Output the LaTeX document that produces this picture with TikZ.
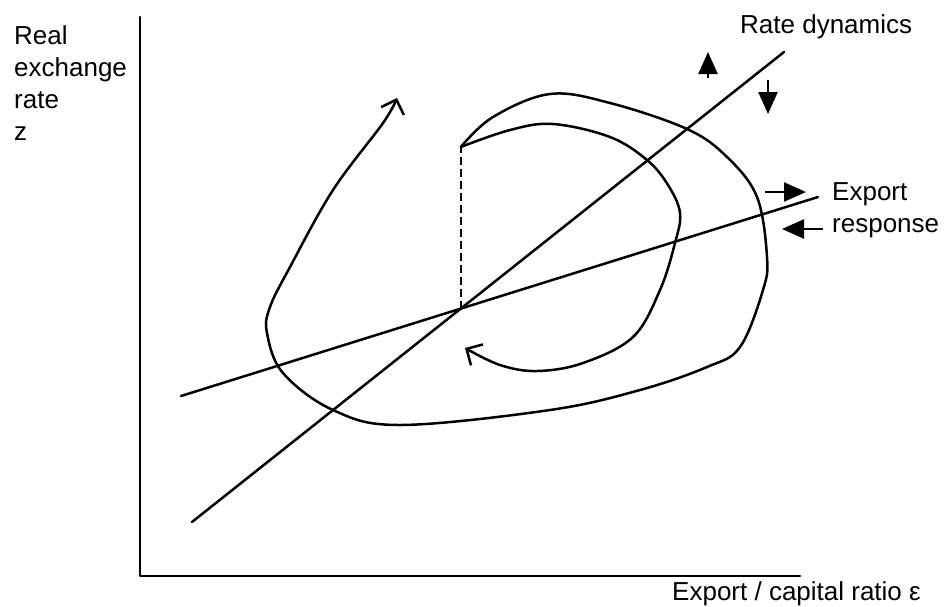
\documentclass[tikz,border=0pt]{standalone}
\usepackage{fontspec}
\setmainfont{Liberation Sans}
\usetikzlibrary{arrows.meta}
\begin{document}
\begin{tikzpicture}[x=1pt,y=-1pt,
  curve/.style={line width=2.5pt, line cap=round, line join=round},
  lbl/.style={font=\fontsize{26}{32}\selectfont, inner sep=0pt, anchor=base west, align=left},
  openhead/.style={-{Straight Barb[length=12pt,width=24pt,line width=2.5pt]}},
  fillhead/.style={line width=2.5pt,-{Triangle[length=22pt,width=19pt]}}]
\useasboundingbox (0,0) rectangle (945,606);
% axes
\coordinate (O) at (140,576);
\coordinate (ytop) at (140,17);
\coordinate (xend) at (800,576);
\draw[curve] (ytop) -- (O) -- (xend);
% straight lines
\coordinate (rd1) at (192,522);
\coordinate (rd2) at (784,52);
\coordinate (er1) at (181,396);
\coordinate (er2) at (818,197);
\draw[curve] (rd1) -- (rd2);
\draw[curve] (er1) -- (er2);
\coordinate (X) at (intersection of rd1--rd2 and er1--er2);
\coordinate (S) at (X |- 0,147);
\draw[curve, line cap=butt, dash pattern=on 8pt off 4pt] (X) -- (S);
% outer trajectory
\coordinate (otip) at (397,98);
\draw[curve, openhead] plot[smooth, tension=0.6] coordinates {
 (S) (493,117) (550,94) (610,103) (687,129) (727,157) (757,197) (767,257)
 (763,290) (740,347) (707,367) (640,390) (550,410) (400,425) (333,410)
 (283,373) (267,333) (270,307) (290,267) (333,190) (383,123) (otip)};
% inner trajectory
\coordinate (itip) at (465,348);
\draw[curve, openhead] plot[smooth, tension=0.6] coordinates {
 (S) (510,130) (553,124) (610,137) (647,160) (668,185) (680,213) (675,243)
 (660,290) (633,337) (583,363) (537,371) (500,365) (itip)};
% labels
\node[lbl] (ylab) at (14,140) {Real\\exchange\\rate\\z};
\node[lbl] (rdlab) at (740,33) {Rate dynamics};
\node[lbl] (erlab) at (832,232) {Export\\response};
\node[lbl] (xlab) at (672,600) {Export / capital ratio ε};
% direction arrows
\coordinate (ua1) at (708,78); \coordinate (ua2) at (708,52);
\coordinate (da1) at (768,80); \coordinate (da2) at (768,114);
\coordinate (ra1) at (765,192); \coordinate (ra2) at (806,192);
\coordinate (la1) at (823,229); \coordinate (la2) at (782,229);
\draw[fillhead] (ua1) -- (ua2);
\draw[fillhead] (da1) -- (da2);
\draw[fillhead] (ra1) -- (ra2);
\draw[fillhead] (la1) -- (la2);
\end{tikzpicture}
\end{document}
